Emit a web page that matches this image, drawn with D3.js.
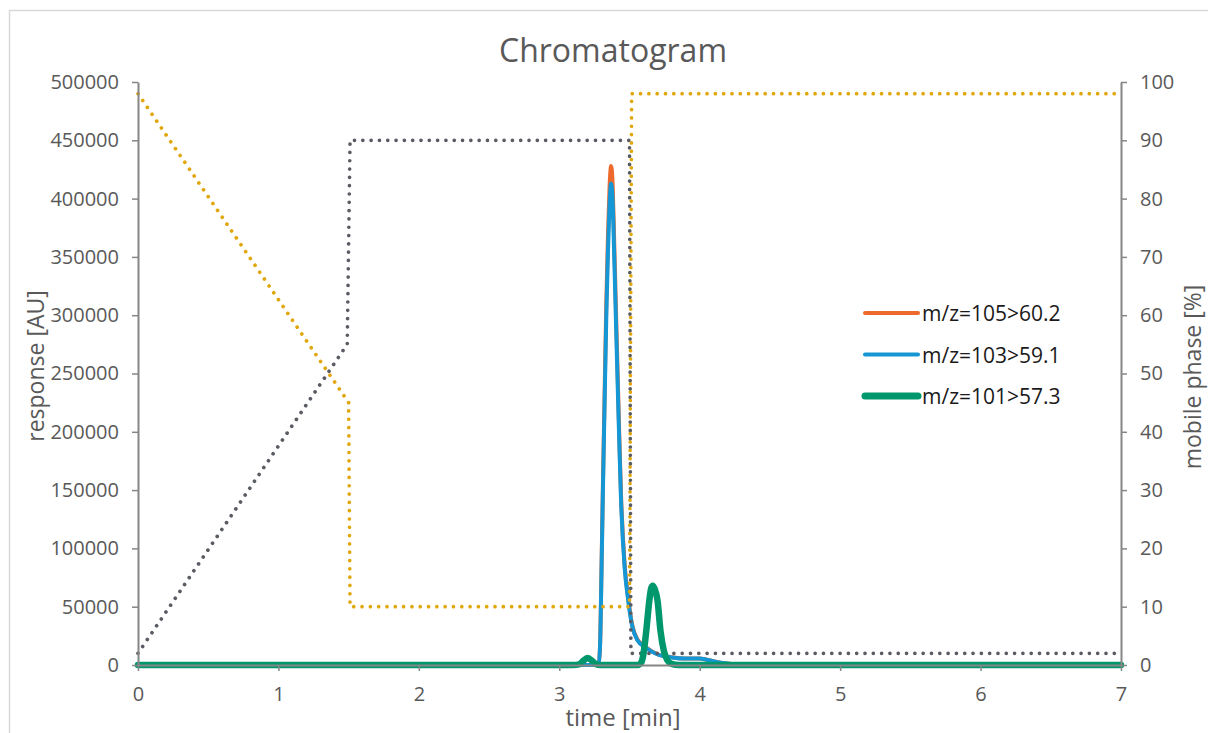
<!DOCTYPE html>
<html>
<head>
<meta charset="utf-8">
<script src="https://cdn.jsdelivr.net/npm/d3@7"></script>
<style>
  body { margin: 0; background: #fff; }
  text { font-family: "Open Sans", sans-serif; }
</style>
</head>
<body>
<div class="chart"></div>
<script>
// chart data
var xTicks = [0, 1, 2, 3, 4, 5, 6, 7];
var yTicks = [0, 50000, 100000, 150000, 200000, 250000, 300000, 350000, 400000, 450000, 500000];
var y2Ticks = [0, 10, 20, 30, 40, 50, 60, 70, 80, 90, 100];

var seriesNames = ["m/z=105>60.2", "m/z=103>59.1", "m/z=101>57.3"];

// [time min, response AU]
var mz105 = [[0,0],[3.0,0],[3.25,0],[3.28,1600],[3.29,16000],[3.30,78000],[3.31,150000],[3.322,228000],
  [3.335,312000],[3.347,370000],[3.358,410000],[3.369,428000],[3.38,412000],[3.39,368000],[3.405,298000],
  [3.425,207000],[3.44,145000],[3.465,87000],[3.49,58000],[3.52,34000],[3.555,22000],[3.62,15000],
  [3.7,9200],[3.8,6700],[3.9,5600],[4.0,5600],[4.05,4600],[4.15,2000],[4.3,300],[4.5,0],[7,0]];
var mz103 = [[0,0],[3.0,0],[3.25,0],[3.28,1500],[3.29,15000],[3.30,75000],[3.31,145000],[3.322,220000],
  [3.335,300000],[3.347,356000],[3.358,395000],[3.369,413000],[3.38,398000],[3.39,356000],[3.405,288000],
  [3.425,200000],[3.44,140000],[3.465,84000],[3.49,56000],[3.52,33000],[3.555,21500],[3.62,14500],
  [3.7,9000],[3.8,6500],[3.9,5500],[4.0,5500],[4.05,4500],[4.15,2000],[4.3,300],[4.5,0],[7,0]];
var mz101 = [[0,0],[3.1,0],[3.14,500],[3.17,3500],[3.2,6000],[3.23,4000],[3.26,800],[3.29,0],
  [3.56,0],[3.585,2500],[3.6,10000],[3.62,30000],[3.642,56000],[3.655,66000],[3.666,68000],
  [3.68,65000],[3.70,55000],[3.72,30000],[3.745,12000],[3.77,4000],[3.8,1000],[3.85,0],[7,0]];

// mobile phase [%]
var phaseA = [[0,98],[1.5,45],[1.51,10],[3.5,10],[3.515,98],[7,98]];
var phaseB = [[0,2],[1.49,55],[1.51,90],[3.5,90],[3.51,2],[7,2]];

var svgWidth = 1208;
var svgHeight = 733;

var svg = d3.select(".chart")
  .append("svg")
  .attr("width", svgWidth)
  .attr("height", svgHeight);

// chart frame (runs off the right/bottom edge)
svg.append("rect")
  .attr("x", 9.5).attr("y", 10.5)
  .attr("width", 1400).attr("height", 900)
  .attr("fill", "#fff")
  .attr("stroke", "#d9d9d9")
  .attr("stroke-width", 1.5);

var x = d3.scaleLinear().domain([0, 7]).range([138, 1121]);
var y = d3.scaleLinear().domain([0, 500000]).range([665, 82]);
var y2 = d3.scaleLinear().domain([0, 100]).range([665, 82]);

var respLine = d3.line()
  .x(d => x(d[0]))
  .y(d => y(d[1]))
  .curve(d3.curveMonotoneX);

var phaseLine = d3.line()
  .x(d => x(d[0]))
  .y(d => y2(d[1]));

var colors = ["#ee6a2c", "#1497d4", "#00976c"];
var widths = [4, 4, 6.5];

// title
svg.append("text")
  .attr("x", 613).attr("y", 62)
  .attr("text-anchor", "middle")
  .attr("font-size", 32)
  .attr("fill", "#595959")
  .text("Chromatogram");

// response traces
svg.append("path").datum(mz105).attr("d", respLine)
  .attr("fill", "none").attr("stroke", colors[0]).attr("stroke-width", widths[0])
  .attr("stroke-linejoin", "round");
svg.append("path").datum(mz103).attr("d", respLine)
  .attr("fill", "none").attr("stroke", colors[1]).attr("stroke-width", widths[1])
  .attr("stroke-linejoin", "round");

// mobile phase, round dots
svg.append("path").datum(phaseA).attr("d", phaseLine)
  .attr("fill", "none").attr("stroke", "#e0a60a").attr("stroke-width", 3.7)
  .attr("stroke-linecap", "round").attr("stroke-dasharray", "0.01 8.3");
svg.append("path").datum(phaseB).attr("d", phaseLine)
  .attr("fill", "none").attr("stroke", "#595d63").attr("stroke-width", 3.7)
  .attr("stroke-linecap", "round").attr("stroke-dasharray", "0.01 8.3");

svg.append("path").datum(mz101).attr("d", respLine)
  .attr("fill", "none").attr("stroke", colors[2]).attr("stroke-width", widths[2])
  .attr("stroke-linejoin", "round").attr("stroke-linecap", "round");

// axes
var leftAxis = d3.axisLeft(y).tickValues(yTicks).tickFormat(d3.format("d"))
  .tickSize(6).tickSizeOuter(0).tickPadding(13);
var rightAxis = d3.axisRight(y2).tickValues(y2Ticks).tickFormat(d3.format("d"))
  .tickSize(6).tickSizeOuter(0).tickPadding(13);
var bottomAxis = d3.axisBottom(x).tickValues(xTicks).tickFormat(d3.format("d"))
  .tickSize(6).tickSizeOuter(0).tickPadding(16);

var gl = svg.append("g").attr("transform", "translate(138,0)").call(leftAxis);
var gr = svg.append("g").attr("transform", "translate(1121,0)").call(rightAxis);
var gb = svg.append("g").attr("transform", "translate(0,665)").call(bottomAxis);

[gl, gr, gb].forEach(function (g) {
  g.select(".domain").attr("stroke", "#868686").attr("stroke-width", 2);
  g.selectAll(".tick line").attr("stroke", "#868686").attr("stroke-width", 1.5);
  g.selectAll(".tick text").attr("fill", "#595959").attr("font-size", 20)
    .attr("font-family", "'Open Sans', sans-serif");
});

// axis titles
svg.append("text")
  .attr("transform", "translate(44,366) rotate(-90)")
  .attr("text-anchor", "middle")
  .attr("font-size", 23)
  .attr("fill", "#595959")
  .text("response [AU]");

svg.append("text")
  .attr("transform", "translate(1201,377) rotate(-90)")
  .attr("text-anchor", "middle")
  .attr("font-size", 23)
  .attr("fill", "#595959")
  .text("mobile phase [%]");

svg.append("text")
  .attr("x", 623).attr("y", 726)
  .attr("text-anchor", "middle")
  .attr("font-size", 24)
  .attr("fill", "#595959")
  .text("time [min]");

// legend
var legend = svg.append("g").selectAll("g")
  .data(seriesNames)
  .enter()
  .append("g")
  .attr("transform", (d, i) => `translate(865, ${313 + i * 41.5})`);

legend.append("line")
  .attr("x1", 0).attr("x2", 53)
  .attr("stroke", (d, i) => colors[i])
  .attr("stroke-width", (d, i) => i == 2 ? 7 : 4)
  .attr("stroke-linecap", "round");

legend.append("text")
  .attr("x", 57).attr("y", 8)
  .attr("font-size", 21)
  .attr("fill", "#1a1a1a")
  .text(d => d);
</script>
</body>
</html>
